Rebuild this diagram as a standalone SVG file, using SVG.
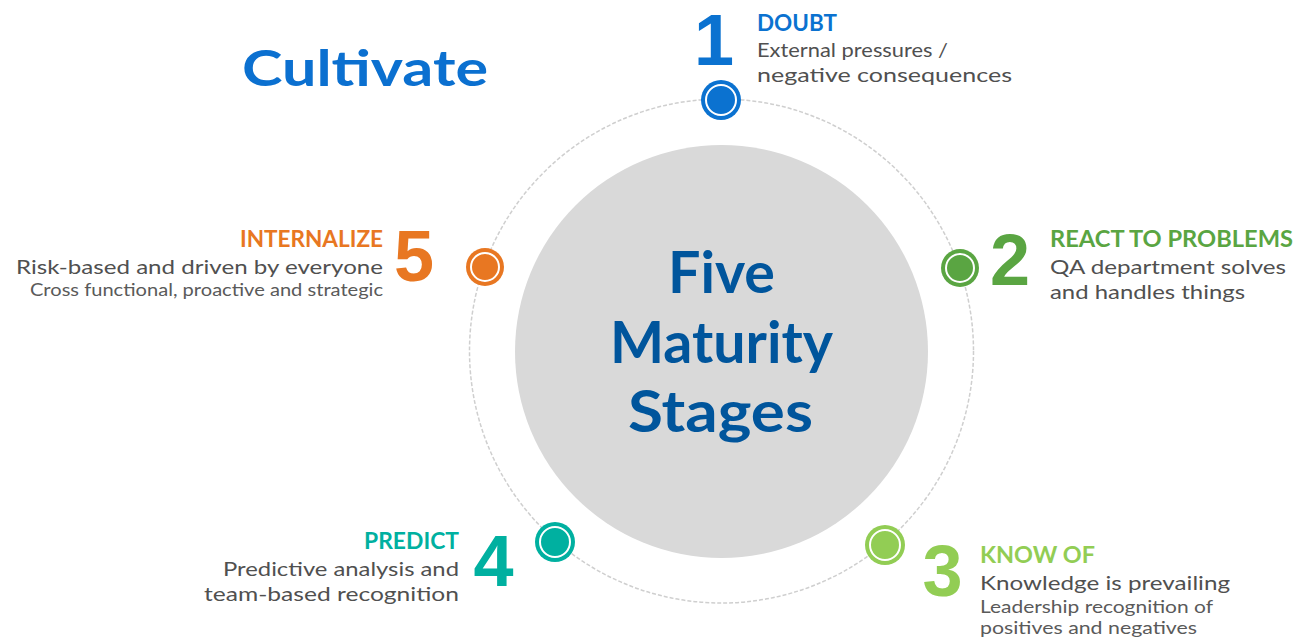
<svg xmlns="http://www.w3.org/2000/svg" width="1299" height="637" viewBox="0 0 1299 637">
<style>
.t{font-family:Lato,"Noto Sans","Liberation Sans",sans-serif;}
.h{font-weight:700;font-size:22px;}
.b{font-size:20px;fill:#505050;}
.s{font-size:16.5px;fill:#5a5a5a;}
.n{font-family:"Liberation Sans",Arial,sans-serif;font-weight:700;font-size:72px;}
.ring{fill:none;stroke:#fff;stroke-width:2;}
</style>
<rect width="1299" height="637" fill="#fff"/>
<g id="connectors">
<circle cx="721.5" cy="351" r="252" fill="none" stroke="#cfcfcf" stroke-width="1.5" stroke-dasharray="4 2"/>
</g>
<g id="title">
<text class="t" x="242" y="86" font-size="49" font-weight="700" fill="#0b70d0" textLength="246" lengthAdjust="spacingAndGlyphs">Cultivate</text>
</g>
<g id="center">
<circle cx="721.5" cy="351.5" r="206.5" fill="#d9d9d9"/>
<text class="t" font-weight="700" font-size="57" fill="#00559c">
<tspan x="668" y="293" textLength="107" lengthAdjust="spacingAndGlyphs">Five</tspan>
</text>
<text class="t" font-weight="700" font-size="57" fill="#00559c">
<tspan x="610" y="363" textLength="223" lengthAdjust="spacingAndGlyphs">Maturity</tspan>
</text>
<text class="t" font-weight="700" font-size="57" fill="#00559c">
<tspan x="628" y="432" textLength="185" lengthAdjust="spacingAndGlyphs">Stages</tspan>
</text>
</g>
<g id="node1">
<circle cx="721" cy="100" r="20" fill="#0b72d0"/>
<circle cx="721" cy="100" r="15" class="ring"/>
<text class="n" x="714" y="65" fill="#0b72d0" text-anchor="middle">1</text>
<text class="t h" x="757" y="31" fill="#0b72d0" textLength="80" lengthAdjust="spacingAndGlyphs">DOUBT</text>
<text class="t b" x="757" y="57" textLength="191" lengthAdjust="spacingAndGlyphs">External pressures /</text>
<text class="t b" x="757" y="82" textLength="255" lengthAdjust="spacingAndGlyphs">negative consequences</text>
</g>
<g id="node2">
<circle cx="960" cy="268" r="19" fill="#5aa542"/>
<circle cx="960" cy="268" r="14" class="ring"/>
<text class="n" x="1010" y="285" fill="#5aa542" text-anchor="middle">2</text>
<text class="t h" x="1050" y="247" fill="#5aa542" textLength="243" lengthAdjust="spacingAndGlyphs">REACT TO PROBLEMS</text>
<text class="t b" x="1050" y="274" textLength="236" lengthAdjust="spacingAndGlyphs">QA department solves</text>
<text class="t b" x="1050" y="299" textLength="195" lengthAdjust="spacingAndGlyphs">and handles things</text>
</g>
<g id="node3">
<circle cx="885" cy="545" r="20" fill="#92cd54"/>
<circle cx="885" cy="545" r="15" class="ring"/>
<text class="n" x="942.5" y="596" fill="#92cd54" text-anchor="middle">3</text>
<text class="t h" x="980" y="563" fill="#92cd54" textLength="115" lengthAdjust="spacingAndGlyphs">KNOW OF</text>
<text class="t b" x="980" y="590" textLength="250" lengthAdjust="spacingAndGlyphs">Knowledge is prevailing</text>
<text class="t s" x="980" y="613" textLength="233" lengthAdjust="spacingAndGlyphs">Leadership recognition of</text>
<text class="t s" x="980" y="634" textLength="217" lengthAdjust="spacingAndGlyphs">positives and negatives</text>
</g>
<g id="node4">
<circle cx="555" cy="542" r="20" fill="#00b0a0"/>
<circle cx="555" cy="542" r="15" class="ring"/>
<text class="n" x="493.5" y="586" fill="#00b0a0" text-anchor="middle">4</text>
<text class="t h" x="459" y="549" fill="#00b0a0" text-anchor="end" textLength="95" lengthAdjust="spacingAndGlyphs">PREDICT</text>
<text class="t b" x="459" y="576" text-anchor="end" textLength="236" lengthAdjust="spacingAndGlyphs">Predictive analysis and</text>
<text class="t b" x="459" y="601" text-anchor="end" textLength="255" lengthAdjust="spacingAndGlyphs">team-based recognition</text>
</g>
<g id="node5">
<circle cx="485" cy="267" r="19" fill="#e87722"/>
<circle cx="485" cy="267" r="14" class="ring"/>
<text class="n" x="414" y="281" fill="#e87722" text-anchor="middle">5</text>
<text class="t h" x="383" y="247" fill="#e87722" text-anchor="end" textLength="143" lengthAdjust="spacingAndGlyphs">INTERNALIZE</text>
<text class="t b" x="383" y="274" text-anchor="end" textLength="367" lengthAdjust="spacingAndGlyphs">Risk-based and driven by everyone</text>
<text class="t s" x="383" y="296" text-anchor="end" textLength="353" lengthAdjust="spacingAndGlyphs">Cross functional, proactive and strategic</text>
</g>
</svg>
